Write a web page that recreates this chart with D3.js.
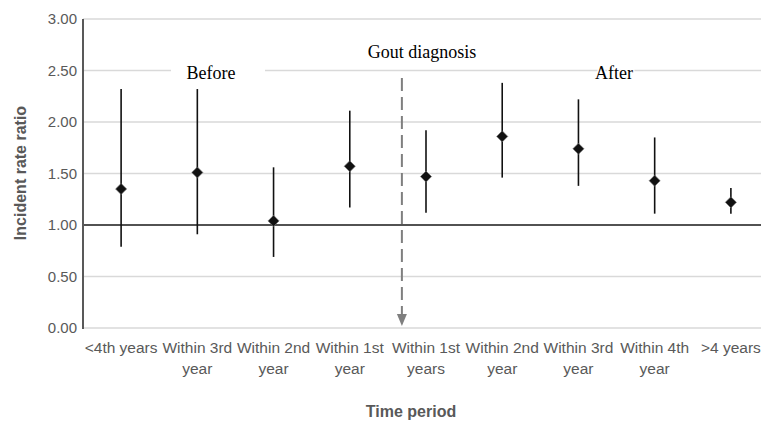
<!DOCTYPE html>
<html lang="en">
<head>
  <meta charset="UTF-8">
  <title>Incident rate ratio</title>
  <script src="https://d3js.org/d3.v7.min.js"></script>
  <style>
    body { margin: 0; background: #fff; overflow: hidden; }
    svg { display: block; }
  </style>
</head>
<body>
  <div id="chart"></div>
  <script>
    // data
    const periods = ['<4th years', 'Within 3rd year', 'Within 2nd year', 'Within 1st year',
      'Within 1st years', 'Within 2nd year', 'Within 3rd year', 'Within 4th year', '>4 years']
    const irr = [1.35, 1.51, 1.04, 1.57, 1.47, 1.86, 1.74, 1.43, 1.22]
    const lower = [0.79, 0.91, 0.69, 1.17, 1.12, 1.46, 1.38, 1.11, 1.11]
    const upper = [2.32, 2.32, 1.56, 2.11, 1.92, 2.38, 2.22, 1.85, 1.36]
    const yTicks = [0, 0.5, 1, 1.5, 2, 2.5, 3]

    const width = 761
    const height = 421
    const margin = { top: 19, right: -8, bottom: 93, left: 83 }

    const svg = d3.select('#chart').append('svg')
      .attr('width', width)
      .attr('height', height)

    const x = d3.scaleBand()
      .domain(d3.range(periods.length))
      .range([margin.left, width - margin.right])

    const y = d3.scaleLinear()
      .domain([0, 3])
      .range([height - margin.bottom, margin.top])

    const cx = i => x(i) + x.bandwidth() / 2

    // gridlines
    svg.append('g')
      .selectAll('line')
      .data(yTicks)
      .enter().append('line')
      .attr('x1', margin.left)
      .attr('x2', width)
      .attr('y1', d => y(d))
      .attr('y2', d => y(d))
      .attr('stroke', '#d9d9d9')
      .attr('stroke-width', 1.5)

    // y tick labels
    svg.append('g')
      .selectAll('text')
      .data(yTicks)
      .enter().append('text')
      .attr('x', margin.left - 6)
      .attr('y', d => y(d))
      .attr('dy', '0.35em')
      .attr('text-anchor', 'end')
      .style('font-family', 'Liberation Sans, Arial, sans-serif')
      .style('font-size', '15px')
      .attr('fill', '#595959')
      .text(d => d.toFixed(2))

    // reference line at 1
    svg.append('line')
      .attr('x1', margin.left)
      .attr('x2', width)
      .attr('y1', y(1))
      .attr('y2', y(1))
      .attr('stroke', '#222')
      .attr('stroke-width', 1.5)

    // y axis line
    svg.append('line')
      .attr('x1', margin.left)
      .attr('x2', margin.left)
      .attr('y1', y(3))
      .attr('y2', y(0) + 1)
      .attr('stroke', '#595959')
      .attr('stroke-width', 2)

    // annotations
    const serif = 'Liberation Serif, Times New Roman, serif'
    svg.append('rect')
      .attr('x', 171).attr('y', 62).attr('width', 94).attr('height', 20)
      .attr('fill', '#fff')
    svg.append('text')
      .attr('x', 211).attr('y', 79)
      .attr('text-anchor', 'middle')
      .style('font-family', serif).style('font-size', '18px')
      .text('Before')
    svg.append('text')
      .attr('x', 422).attr('y', 58)
      .attr('text-anchor', 'middle')
      .style('font-family', serif).style('font-size', '18px')
      .text('Gout diagnosis')
    svg.append('text')
      .attr('x', 614).attr('y', 79)
      .attr('text-anchor', 'middle')
      .style('font-family', serif).style('font-size', '18px')
      .style('paint-order', 'stroke').attr('stroke', '#fff').attr('stroke-width', 3)
      .text('After')

    // diagnosis arrow
    const arrowX = x(4) + 14
    svg.append('line')
      .attr('x1', arrowX).attr('x2', arrowX)
      .attr('y1', 78).attr('y2', y(0) - 12)
      .attr('stroke', '#7f7f7f')
      .attr('stroke-width', 2)
      .attr('stroke-dasharray', '13,6')
    svg.append('path')
      .attr('d', `M${arrowX - 5},${y(0) - 14} L${arrowX + 5},${y(0) - 14} L${arrowX},${y(0) - 2} Z`)
      .attr('fill', '#7f7f7f')

    // error bars
    svg.append('g')
      .selectAll('line')
      .data(irr)
      .enter().append('line')
      .attr('x1', (d, i) => cx(i))
      .attr('x2', (d, i) => cx(i))
      .attr('y1', (d, i) => y(lower[i]))
      .attr('y2', (d, i) => y(upper[i]))
      .attr('stroke', '#111')
      .attr('stroke-width', 1.6)

    // diamonds
    svg.append('g')
      .selectAll('path')
      .data(irr)
      .enter().append('path')
      .attr('d', d3.symbol(d3.symbolSquare, 62))
      .attr('transform', (d, i) => `translate(${cx(i)},${y(d)}) rotate(45)`)
      .attr('fill', '#111')
      .attr('stroke', '#777')
      .attr('stroke-width', 0.6)

    // x tick labels, wrapped to band width
    const xLabels = svg.append('g')
      .selectAll('text')
      .data(periods)
      .enter().append('text')
      .attr('x', (d, i) => cx(i))
      .attr('y', 353)
      .attr('text-anchor', 'middle')
      .style('font-family', 'Liberation Sans, Arial, sans-serif')
      .style('font-size', '15.5px')
      .attr('fill', '#595959')

    xLabels.each(function (d) {
      const text = d3.select(this)
      const words = d.split(' ')
      let line = []
      let tspan = text.append('tspan').attr('x', text.attr('x')).attr('dy', 0)
      words.forEach(w => {
        line.push(w)
        tspan.text(line.join(' '))
        if (tspan.node().getComputedTextLength() > x.bandwidth() && line.length > 1) {
          line.pop()
          tspan.text(line.join(' '))
          line = [w]
          tspan = text.append('tspan').attr('x', text.attr('x')).attr('dy', 21).text(w)
        }
      })
    })

    // axis titles
    svg.append('text')
      .attr('transform', `translate(26,${173}) rotate(-90)`)
      .attr('text-anchor', 'middle')
      .style('font-family', 'Liberation Sans, Arial, sans-serif')
      .style('font-size', '16px')
      .style('font-weight', 'bold')
      .attr('fill', '#595959')
      .text('Incident rate ratio')

    svg.append('text')
      .attr('x', 411)
      .attr('y', 417)
      .attr('text-anchor', 'middle')
      .style('font-family', 'Liberation Sans, Arial, sans-serif')
      .style('font-size', '16px')
      .style('font-weight', 'bold')
      .attr('fill', '#595959')
      .text('Time period')
  </script>
</body>
</html>
